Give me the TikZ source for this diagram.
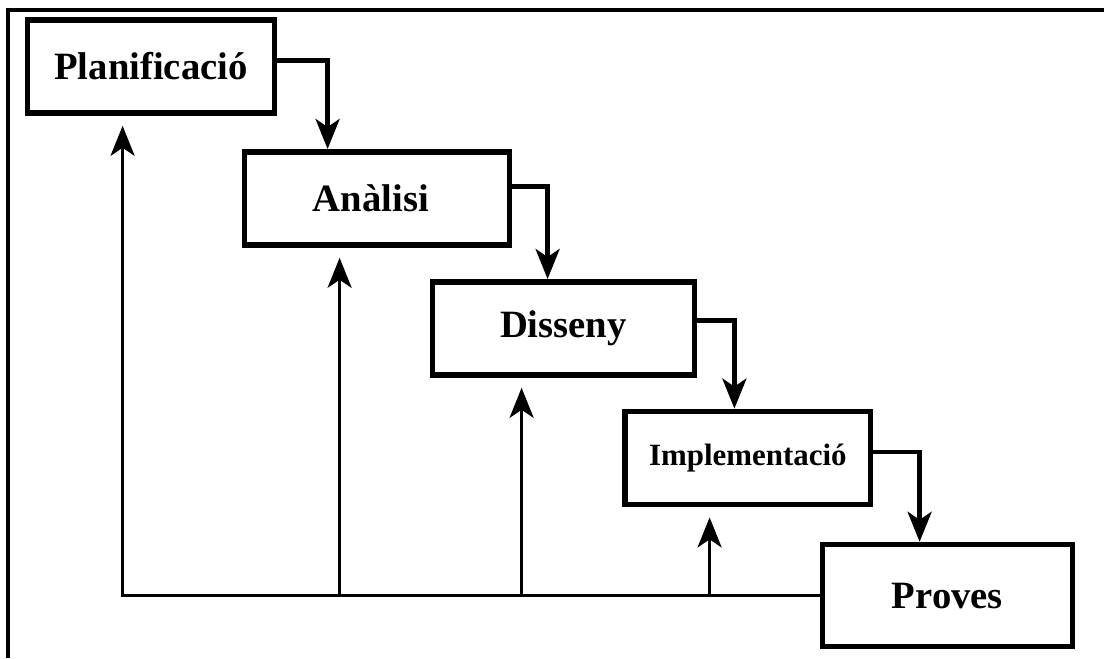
\documentclass[tikz,border=0pt]{standalone}
\usepackage{fontspec}
\setmainfont{Liberation Serif}
\usepackage{tikz}
\usetikzlibrary{arrows.meta}
\tikzstyle{fase} = [rectangle, minimum width=6.2cm, minimum height=2.33cm, text centered, draw=black, line width=0.14cm, font=\fontsize{27.5}{31}\selectfont\bfseries]
\tikzstyle{arrow} = [line width=0.11cm, ->, >={Stealth[length=0.75cm, width=0.6cm, inset=0.2cm]}]
\tikzstyle{back} = [line width=0.08cm, ->, >={Stealth[length=0.75cm, width=0.6cm, inset=0.2cm]}, shorten >=0.25cm]

\begin{document}
\begin{tikzpicture}[node distance = 3.3cm]
\useasboundingbox (0,0) rectangle (27.6,-16.45);
\draw[line width=0.09cm] (0.2,-16.45) |- (27.6,-0.25);
\node(1)[fase, minimum width=6.18cm] at (3.775,-1.66){Planificació};
\node(2)[fase, minimum width=6.63cm, below of = 1, xshift = 5.65cm]{Anàlisi\hspace*{0.3cm}};
\node(3)[fase, minimum width=6.55cm, below of = 2, xshift = 4.66cm, yshift = 0.05cm]{Disseny};
\node(4)[fase, minimum width=6.13cm, below of = 3, xshift = 4.61cm, yshift = 0.06cm, font=\fontsize{22}{26}\selectfont\bfseries]{Implementació};
\node(5)[fase, minimum width=6.25cm, minimum height=2.55cm, below of = 4, xshift = 4.99cm, yshift = -0.14cm]{Proves};
\draw[arrow]([yshift=0.15cm]1.east) -| ([xshift=2.15cm]2.north west);
\draw[arrow]([yshift=0.3cm]2.east) -| ([xshift=2.95cm]3.north west);
\draw[arrow]([yshift=0.2cm]3.east) -| ([xshift=2.8cm]4.north west);
\draw[arrow]([yshift=0.15cm]4.east) -| ([xshift=2.5cm]5.north west);
\draw[back](5.west) -| ([xshift=2.45cm]1.south west);
\draw[back]([xshift=2.45cm]2.south west |- 5.west) -- ([xshift=2.45cm]2.south west);
\draw[back]([xshift=2.3cm]3.south west |- 5.west) -- ([xshift=2.3cm]3.south west);
\draw[back]([xshift=2.18cm]4.south west |- 5.west) -- ([xshift=2.18cm]4.south west);
\end{tikzpicture}
\end{document}
